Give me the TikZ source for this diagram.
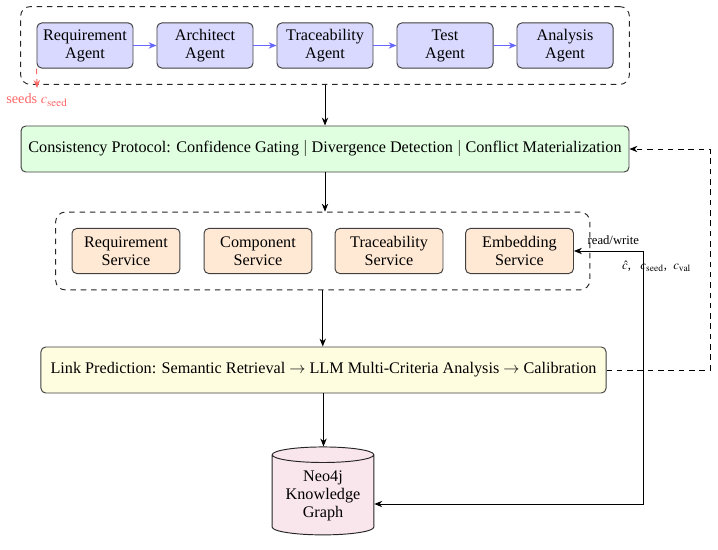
\documentclass[tikz,border=0pt]{standalone}
\usepackage{mathptmx}
\usepackage{fontspec}
\setmainfont{Liberation Serif}
\usetikzlibrary{arrows.meta,shapes.geometric,fit,calc}
\begin{document}
\begin{tikzpicture}[x=0.63pt,y=-0.63pt,
  bodyfont/.style={font=\fontsize{10.2}{11.3}\selectfont},
  agent/.style={bodyfont, draw=black!75, fill=blue!15, rounded corners=3pt, minimum width=60.5pt, minimum height=28.4pt, align=center, inner sep=1pt, semithick},
  service/.style={agent, fill=orange!17, minimum width=68pt},
  wide/.style={bodyfont, draw=black!75, rounded corners=3pt, minimum height=29pt, semithick, inner sep=2pt},
  group/.style={draw=black!85, dash pattern=on 3.5pt off 3pt, rounded corners=6pt, semithick, inner sep=10pt},
  flow/.style={-{Stealth[length=5pt,width=4pt]}, semithick},
  bflow/.style={flow, draw=blue!60}]
\useasboundingbox (0,0) rectangle (718,549);

% agents
\node[agent] (a1) at (85,45.5) {Requirement\\Agent};
\node[agent] (a2) at (205,45.5) {Architect\\Agent};
\node[agent] (a3) at (325,45.5) {Traceability\\Agent};
\node[agent] (a4) at (445,45.5) {Test\\Agent};
\node[agent] (a5) at (565,45.5) {Analysis\\Agent};
\node[group, fit=(a1)(a5)] (ag) {};
\draw[bflow] (a1) -- (a2);
\draw[bflow] (a2) -- (a3);
\draw[bflow] (a3) -- (a4);
\draw[bflow] (a4) -- (a5);

\node[text=red!60, font=\small] (seeds) at (37,100) {seeds $c_{\mathrm{seed}}$};
\draw[red!60, dash pattern=on 3.5pt off 3pt, semithick, -{Stealth[length=5pt,width=4pt]}] (a1.south west) -- (seeds.north);

% consistency
\node[wide, fill=green!12, minimum width=383pt] (cp) at (325,149)
  {Consistency Protocol: Confidence Gating $|$ Divergence Detection $|$ Conflict Materialization};
\draw[flow] (ag) -- (cp);

% services
\node[service] (s1) at (126,251) {Requirement\\Service};
\node[service] (s2) at (258,251) {Component\\Service};
\node[service] (s3) at (389,251) {Traceability\\Service};
\node[service] (s4) at (519.5,251) {Embedding\\Service};
\node[group, fit=(s1)(s4)] (sg) {};
\draw[flow] (cp.south) -- (cp.south |- sg.north);

% link prediction
\node[wide, fill=yellow!12, minimum width=356pt] (lp) at (323.5,370)
  {Link Prediction: Semantic Retrieval $\rightarrow$ LLM Multi-Criteria Analysis $\rightarrow$ Calibration};
\draw[flow] (sg.south) -- (sg.south |- lp.north);

% knowledge graph
\node[cylinder, shape border rotate=90, aspect=0.2, draw=black!85, fill=purple!10, semithick, bodyfont,
  minimum width=64pt, minimum height=55.4pt, align=center, inner sep=1pt] (kg) at (323,496)
  {Neo4j\\Knowledge\\Graph};
\draw[flow] (lp.south) -- (lp.south |- kg.north);

% feedback
\coordinate (fb1) at (710,370);
\coordinate (fb2) at (710,149);
\draw[dash pattern=on 3.5pt off 3pt, semithick, -{Stealth[length=5pt,width=4pt]}] (lp.east) -- (fb1) -- (fb2) -- (cp.east);

% read/write
\coordinate (rw) at (643,251);
\coordinate (kgc) at (643,504);
\draw[semithick, {Stealth[length=5pt,width=4pt]}-{Stealth[length=5pt,width=4pt]}] (s4.east) -- (rw) -- (kgc) -- (kgc -| kg.east);
\node[font=\footnotesize, anchor=south east, inner sep=1pt] (rwl) at (641,247) {read/write};
\node[font=\footnotesize, anchor=west, inner sep=0.5pt] (cl) at (621,266) {$\hat{c}$,\hspace{6pt}$c_{\mathrm{seed}}$,\ \ $c_{\mathrm{val}}$};
\end{tikzpicture}
\end{document}
